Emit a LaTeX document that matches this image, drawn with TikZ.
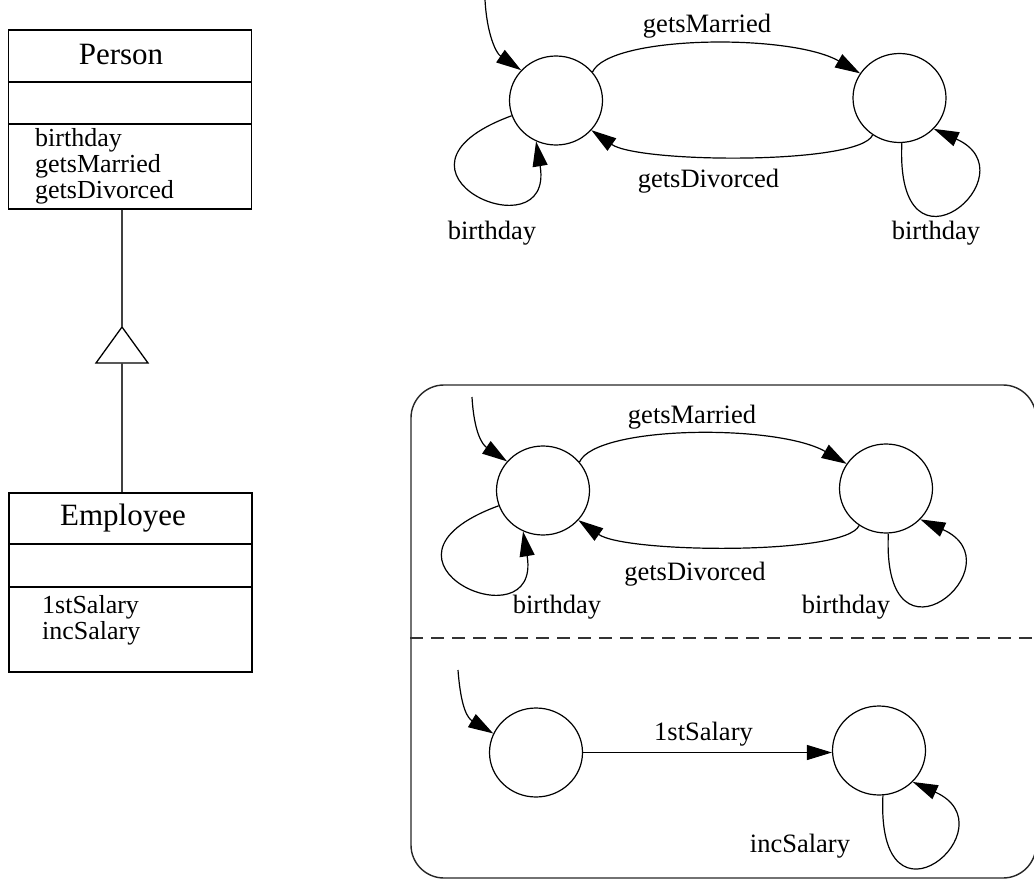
\documentclass[tikz,border=0pt]{standalone}
\usepackage{fontspec}
\setmainfont{Liberation Serif}
\usetikzlibrary{arrows.meta,shapes.geometric}
\begin{document}
\begin{tikzpicture}[x=1pt,y=-1pt,
  state/.style={draw, ellipse, line width=1.2pt, minimum width=93pt,
    minimum height=89pt, inner sep=0pt},
  trans/.style={draw, line width=1.2pt, -{Triangle[length=25pt,width=15pt]}},
  lbl/.style={anchor=base, inner sep=0pt, font=\fontsize{26.5}{30}\selectfont},
  title/.style={anchor=base, inner sep=0pt, font=\fontsize{31}{34}\selectfont},
  attr/.style={anchor=base west, inner sep=0pt, font=\fontsize{26}{30}\selectfont},
  classbox/.style={draw, line width=1.4pt, inner sep=0pt, minimum width=243pt,
    minimum height=179pt},
  sep/.style={line width=1.4pt},
  inherit/.style={line width=1.8pt, draw=black!75},
  frame/.style={draw=black!85, line width=1.4pt, rounded corners=33pt,
    inner sep=0pt, minimum width=625pt, minimum height=493pt},
  region/.style={draw=black!80, line width=1.4pt, dash pattern=on 13pt off 8pt}]
\useasboundingbox (0,0) rectangle (1034,880);

% ---------- class diagram ----------
\node[classbox] (person) at (130,119.5) {};
\draw[sep] (person.west |- 0,82) -- (person.east |- 0,82);
\draw[sep] (person.west |- 0,124) -- (person.east |- 0,124);
\node[title] (personName) at (121,65) {Person};
\node[attr] (pOp1) at (35,147) {birthday};
\node[attr] (pOp2) at (35,173) {getsMarried};
\node[attr] (pOp3) at (35,198) {getsDivorced};

\node[classbox] (employee) at (130.5,582.5) {};
\draw[sep] (employee.west |- 0,544) -- (employee.east |- 0,544);
\draw[sep] (employee.west |- 0,587) -- (employee.east |- 0,587);
\node[title] (employeeName) at (123,525) {Employee};
\node[attr] (eOp1) at (42,613) {1stSalary};
\node[attr] (eOp2) at (42,639) {incSalary};

% generalisation: open triangle pointing at the superclass
\coordinate (apex) at (122,327);
\coordinate (triBase) at (122,363);
\draw[line width=1.3pt] (apex) -- (96,363) -- (148,363) -- cycle;
\draw[inherit] (person.south -| apex) -- (apex);
\draw[inherit] (triBase) -- (employee.north -| triBase);

% ---------- Person state machine ----------
\node[state] (pA) at (556,100.5) {};
\node[state] (pB) at (899.5,98) {};
\coordinate (pInit) at (485,0);
\draw[trans] (pInit) .. controls +(2,35) and +(-25,-17) .. (pA.139);
\draw[trans] (pA.38) .. controls +(17,-37) and +(-69,-40) .. (pB.148);
\draw[trans] (pB.234) .. controls +(-13,30) and +(47,33) .. (pA.-40);
\draw[trans] (pA.199) .. controls +(-150,55) and +(19,115) .. (pA.244);
\draw[trans] (pB.273) .. controls +(-7,149) and +(100,45) .. (pB.318);
\node[lbl] (pMar) at (707,33) {getsMarried};
\node[lbl] (pDiv) at (708.5,188) {getsDivorced};
\node[lbl] (pBirthA) at (492,240) {birthday};
\node[lbl] (pBirthB) at (936,240) {birthday};

% ---------- Employee state machine (two concurrent regions) ----------
\node[frame] (machine) at (723.5,631.5) {};
\draw[region] (machine.west |- 0,638) -- (machine.east |- 0,638);

\node[state] (qA) at (543,490.5) {};
\node[state] (qB) at (886,488.5) {};
\coordinate (qInit) at (472,397);
\draw[trans] (qInit) .. controls +(2,35) and +(-25,-17) .. (qA.141);
\draw[trans] (qA.38) .. controls +(17,-37) and +(-69,-40) .. (qB.148);
\draw[trans] (qB.234) .. controls +(-13,30) and +(47,33) .. (qA.-40);
\draw[trans] (qA.199) .. controls +(-150,55) and +(19,115) .. (qA.244);
\draw[trans] (qB.273) .. controls +(-7,149) and +(100,45) .. (qB.318);
\node[lbl] (qMar) at (692,423) {getsMarried};
\node[lbl] (qDiv) at (695,580) {getsDivorced};
\node[lbl] (qBirthA) at (557,613) {birthday};
\node[lbl] (qBirthB) at (846,613) {birthday};

\node[state] (rA) at (536,752.5) {};
\node[state] (rB) at (879,750.5) {};
\coordinate (rInit) at (458,670);
\draw[trans] (rInit) .. controls +(3,40) and +(-25,-15) .. (rA.156);
\draw[trans] (rA.east) -- (rA.east -| rB.west);
\draw[trans] (rB.275) .. controls +(-7,149) and +(100,45) .. (rB.317);
\node[lbl] (rSal) at (703.5,740) {1stSalary};
\node[lbl] (rInc) at (800,852) {incSalary};
\end{tikzpicture}
\end{document}
